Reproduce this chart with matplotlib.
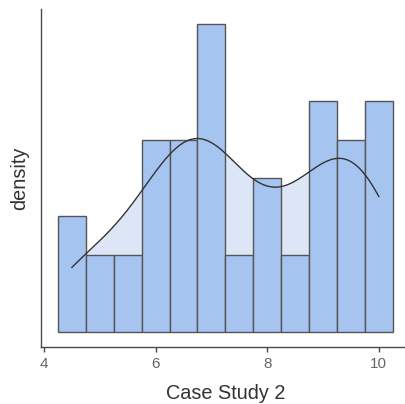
import numpy as np
import matplotlib
matplotlib.use("Agg")
import matplotlib.pyplot as plt

# Data: observed values (half-unit steps) and their frequencies
values = [4.5, 5.0, 5.5, 6.0, 6.5, 7.0, 7.5, 8.0, 8.5, 9.0, 9.5, 10.0]
counts = [3, 2, 2, 5, 5, 8, 2, 4, 2, 6, 5, 6]
xticks = [4, 6, 8, 10]
xlabel = "Case Study 2"
ylabel = "density"

binwidth = 0.5
bandwidth = 0.694

plt.rcParams['font.family'] = ['Liberation Sans', 'DejaVu Sans']

vals = np.array(values, dtype=float)
cnts = np.array(counts, dtype=float)
n = cnts.sum()
dens = cnts / (n * binwidth)

# Gaussian KDE of the raw observations, restricted to data range
grid = np.linspace(vals.min(), vals.max(), 400)
kde = (cnts[None, :] * np.exp(-0.5 * ((grid[:, None] - vals[None, :]) / bandwidth) ** 2)).sum(axis=1)
kde /= n * bandwidth * np.sqrt(2 * np.pi)

fig = plt.figure(figsize=(4.06, 4.04), dpi=100)
ax = fig.add_axes([0.1015, 0.141, 1.0086 - 0.1015, 0.837])

ax.fill_between(grid, 0, kde, color='#dce6f7', lw=0, zorder=1)
ax.bar(vals, dens, width=binwidth, color='#a5c4f0', edgecolor='#555555', linewidth=1.0, zorder=2)
ax.plot(grid, kde, color='#333333', lw=1.0, zorder=3)

ymax = dens.max()
ax.set_xlim(3.95, 10.55)
ax.set_ylim(-0.05 * ymax, 1.05 * ymax)
ax.set_xticks(xticks)
ax.set_xticklabels([str(t) for t in xticks])
ax.set_yticks([])

for s in ['top', 'right']:
    ax.spines[s].set_visible(False)
for s in ['left', 'bottom']:
    ax.spines[s].set_color('#4a4a4a')
    ax.spines[s].set_linewidth(1.0)

ax.tick_params(axis='x', length=3.6, width=1.0, color='#4a4a4a', labelcolor='#666666', labelsize=11, pad=3.5)
ax.set_xlabel(xlabel, fontsize=14.3, color='#333333', labelpad=9.5)
ax.set_ylabel(ylabel, fontsize=14.3, color='#333333', labelpad=9)

fig.savefig("out.png", dpi=100)
